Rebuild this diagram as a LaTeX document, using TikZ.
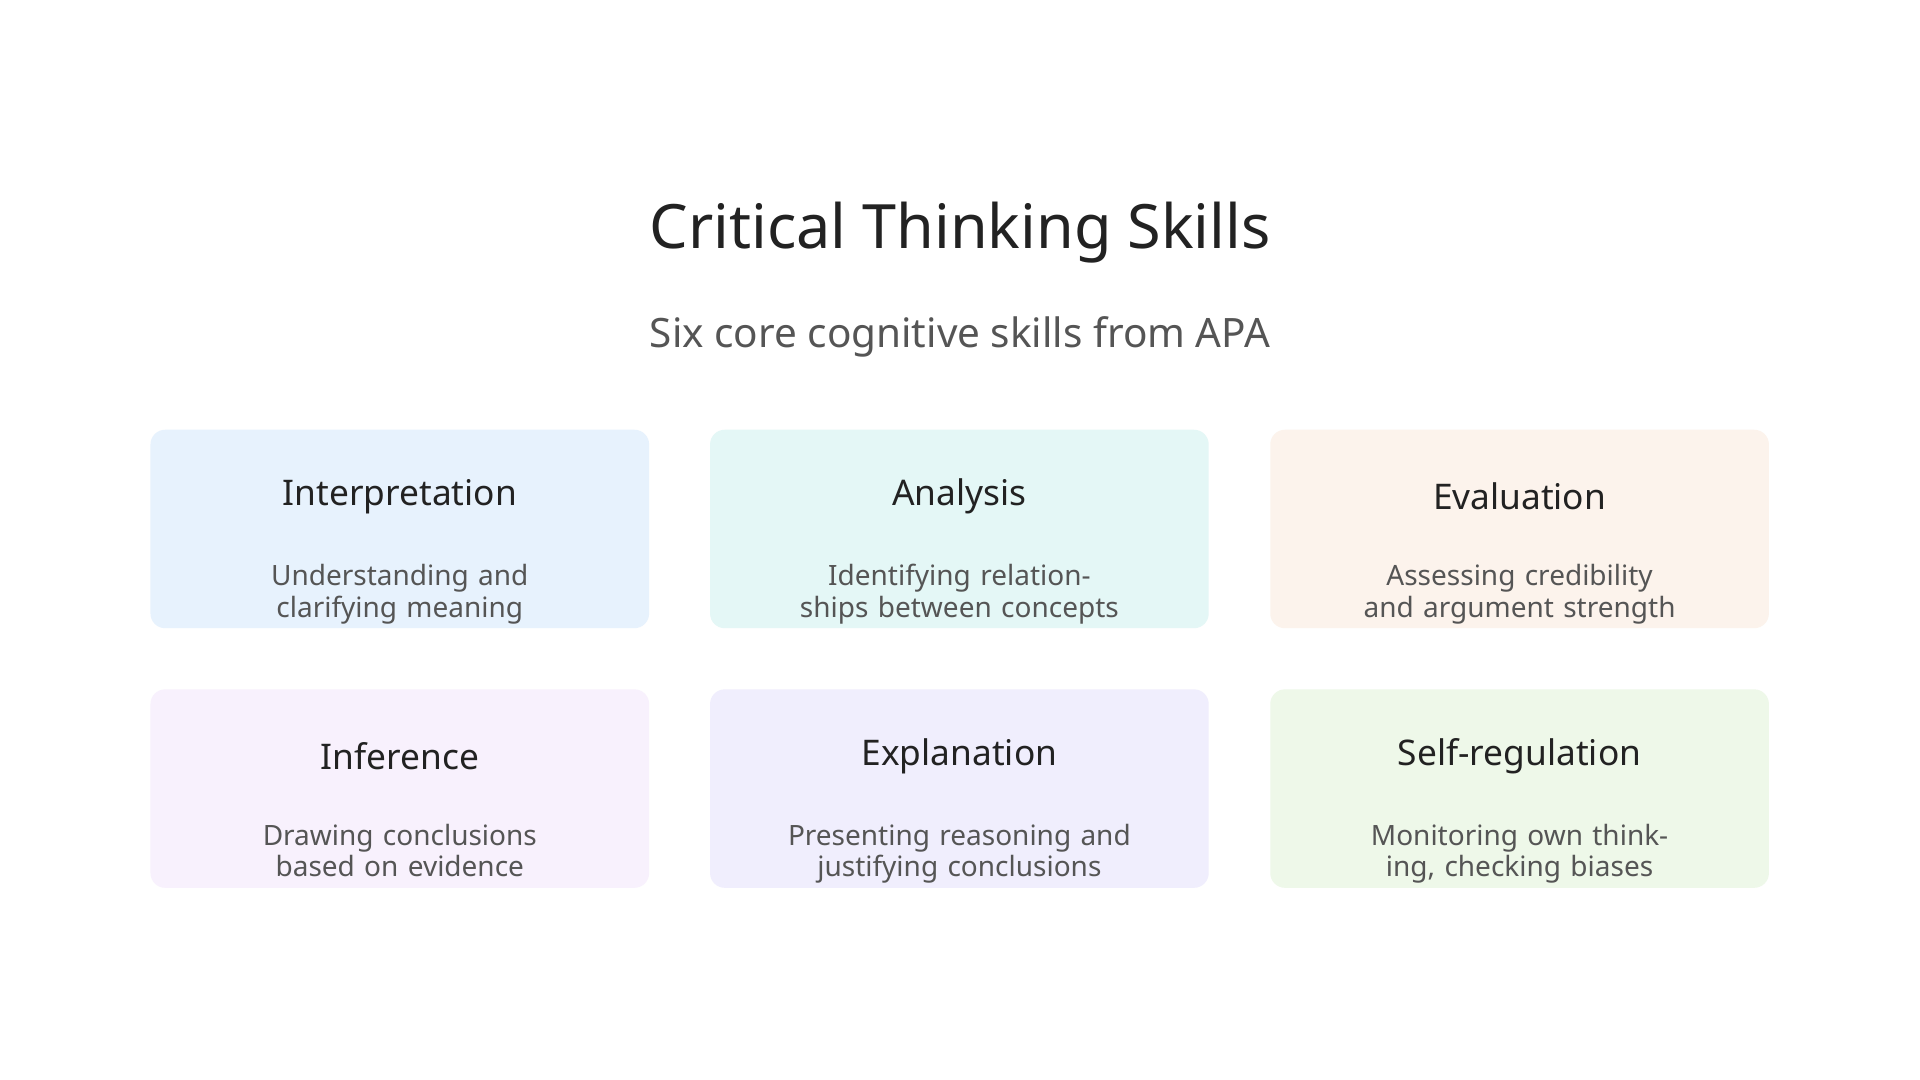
\documentclass[tikz,border=0pt]{standalone}
\usepackage{fontspec}
\setmainfont{Noto Sans}
\usepackage{tikz}
\usetikzlibrary{positioning}
\definecolor{cblue}{HTML}{E7F2FD}
\definecolor{cteal}{HTML}{E4F7F6}
\definecolor{cpeach}{HTML}{FCF3EC}
\definecolor{clilac}{HTML}{F8F1FD}
\definecolor{cviolet}{HTML}{F0EEFD}
\definecolor{cgreen}{HTML}{EEF8E9}
\definecolor{tdark}{HTML}{222222}
\definecolor{tgrey}{HTML}{555555}
\tikzset{
  skillbox/.style = {rounded corners=1.2mm, minimum width=4.07cm,
    minimum height=1.62cm, inner sep=0pt},
  skillhead/.style = {font=\fontsize{8.2}{10}\selectfont\bfseries, text=tdark},
  skilltext/.style = {font=\fontsize{6.5}{7.4}\selectfont, text=tgrey,
    align=center, text width=3.9cm}
}
\newcommand{\skill}[5]{% name, centre, colour, heading, text
  \node[skillbox, fill=#3] (#1) at #2 {};
  \node[skillhead] (#1h) at ([yshift=-0.55cm]#1.north) {#4};
  \node[skilltext, anchor=north] (#1t) at ([yshift=-0.98cm]#1.north) {#5};
}
\begin{document}
\begin{tikzpicture}[x=0.01cm,y=-0.01cm]
\useasboundingbox[fill=white] (0,0) rectangle (1568,882);
\node[font=\fontsize{14.2}{16}\selectfont, text=tdark] (title) at (784,190) {Critical Thinking Skills};
\node[font=\fontsize{9.4}{11}\selectfont, text=tgrey] (sub) at (784,275) {Six core cognitive skills from APA};
% first row
\skill{interp}{(326.5,432)}{cblue}{Interpretation}{Understanding and clarifying meaning}
\skill{anal}{(783.5,432)}{cteal}{Analysis}{Identifying relationships between concepts}
\skill{eval}{(1241,432)}{cpeach}{Evaluation}{Assessing credibility and argument strength}
% second row
\skill{infer}{(326.5,644)}{clilac}{Inference}{Drawing conclusions based on evidence}
\skill{expl}{(783.5,644)}{cviolet}{Explanation}{Presenting reasoning and justifying conclusions}
\skill{selfr}{(1241,644)}{cgreen}{Self-regulation}{Monitoring own thinking, checking biases}
\end{tikzpicture}
\end{document}
